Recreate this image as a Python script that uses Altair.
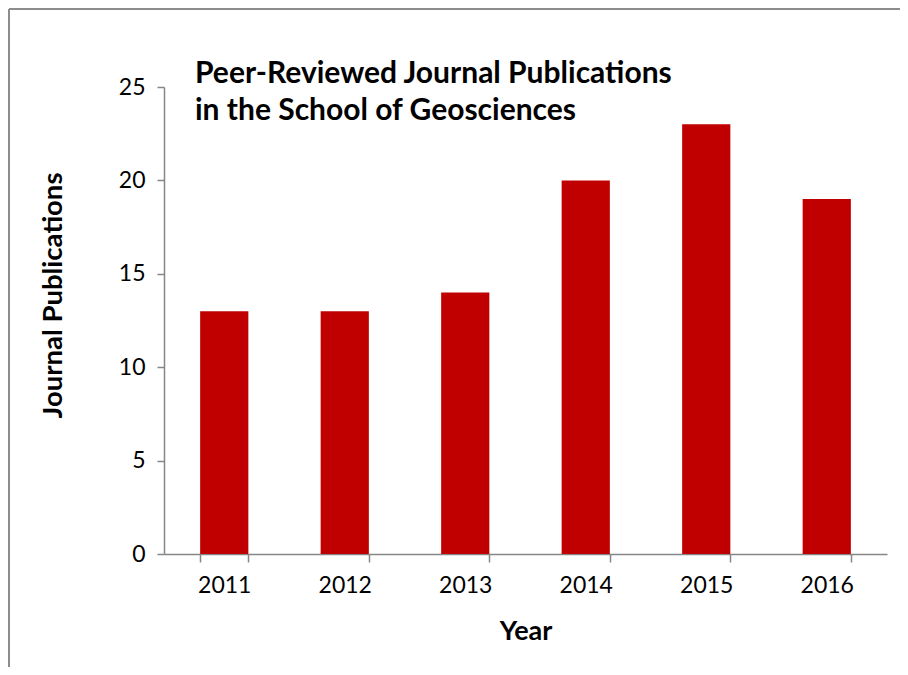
import altair as alt
import pandas as pd

years = ["2011", "2012", "2013", "2014", "2015", "2016"]
pubs = [13, 13, 14, 20, 23, 19]
title_lines = ["Peer-Reviewed Journal Publications", "in the School of Geosciences"]

df = pd.DataFrame({"Year": years, "Publications": pubs})

FONT = "Lato"
AXIS_GRAY = "#868686"
W, H = 723, 467

bars = alt.Chart(df).mark_bar(color="#C00000").encode(
    x=alt.X("Year:N", sort=years,
            scale=alt.Scale(paddingInner=0.6, paddingOuter=0.3),
            axis=alt.Axis(title="Year", labelAngle=0, tickBand="extent",
                          tickSize=8, labelPadding=12, labelFontSize=23,
                          titleFontSize=27, titleFontWeight="bold",
                          titleY=77, titleBaseline="middle")),
    y=alt.Y("Publications:Q",
            scale=alt.Scale(domain=[0, 25], nice=False),
            axis=alt.Axis(title="Journal Publications", values=[0, 5, 10, 15, 20, 25],
                          tickSize=7, labelPadding=12, labelFontSize=23, grid=False,
                          titleFontSize=27.5, titleFontWeight="bold",
                          titleAngle=-90, titleX=-111, titleY=208,
                          titleAlign="center", titleBaseline="middle")),
)

border = alt.Chart(df).mark_rule(strokeWidth=2, color="#8c8c8c").encode(
    x=alt.value(-155), x2=alt.value(W + 400),
    y=alt.value(-78),
)
border_left = alt.Chart(df).mark_rule(strokeWidth=2, color="#8c8c8c").encode(
    x=alt.value(-155),
    y=alt.value(-78), y2=alt.value(H + 400),
)

chart = alt.layer(border, border_left, bars).properties(
    width=W, height=H,
    autosize=alt.AutoSizeParams(type="none"),
    padding={"left": 156, "top": 79, "right": 13, "bottom": 113},
    title=alt.TitleParams(text=title_lines, anchor="start", frame="group",
                          fontSize=30, fontWeight="bold", font=FONT, color="black",
                          lineHeight=37, baseline="top", dx=31, dy=118, offset=0),
).configure_view(stroke=None).configure_axis(
    labelFont=FONT, titleFont=FONT, labelColor="black", titleColor="black",
    domainColor=AXIS_GRAY, tickColor=AXIS_GRAY, domainWidth=1.5, tickWidth=1.5,
)

chart.save("out.html", embed_options={"renderer": "svg", "actions": False})
